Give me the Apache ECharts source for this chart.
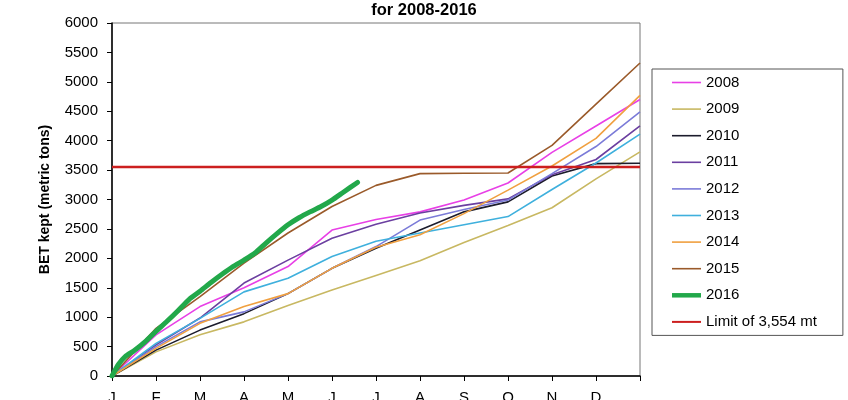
<!DOCTYPE html>
<html>
<head>
<meta charset="utf-8">
<script src="https://cdn.jsdelivr.net/npm/echarts@6/dist/echarts.min.js"></script>
<style>
  html, body { margin: 0; padding: 0; background: #fff; }
  #chart { width: 848px; height: 400px; }
</style>
</head>
<body>
<div id="chart"></div>
<script>
// month tick labels (tick 12 = end of year, no label)
var months = ['J', 'F', 'M', 'A', 'M', 'J', 'J', 'A', 'S', 'O', 'N', 'D'];
var limit = 3554;

// cumulative catch at each month tick 0..12
var y2008 = [0, 700, 1180, 1500, 1860, 2480, 2660, 2790, 2990, 3280, 3800, 4250, 4700];
var y2009 = [0, 410, 700, 920, 1200, 1460, 1710, 1960, 2270, 2560, 2860, 3350, 3810];
var y2010 = [0, 440, 780, 1060, 1400, 1830, 2170, 2480, 2790, 2960, 3400, 3610, 3615];
var y2011 = [0, 530, 985, 1580, 1970, 2340, 2580, 2770, 2900, 3010, 3420, 3680, 4250];
var y2012 = [0, 500, 920, 1090, 1400, 1830, 2200, 2650, 2830, 2990, 3440, 3900, 4490];
var y2013 = [0, 555, 980, 1430, 1660, 2030, 2290, 2430, 2570, 2710, 3170, 3620, 4110];
var y2014 = [0, 470, 895, 1180, 1400, 1830, 2190, 2400, 2760, 3160, 3570, 4040, 4770];
var y2015 = [0, 810, 1350, 1920, 2430, 2880, 3240, 3440, 3445, 3450, 3920, 4620, 5320];

// 2016 is reported more often (position in months, value)
var x2016 = [0, 0.15, 0.3, 0.5, 0.75, 1.0, 1.25, 1.5, 1.75, 2.0, 2.25, 2.5, 2.75, 3.0,
             3.25, 3.5, 3.75, 4.0, 4.25, 4.5, 4.75, 5.0, 5.25, 5.58];
var y2016 = [0, 200, 330, 430, 580, 760, 930, 1110, 1300, 1440, 1590, 1730, 1860, 1970,
             2090, 2260, 2420, 2570, 2690, 2790, 2880, 2990, 3120, 3290];

function monthly(vals) {
  return vals.map(function (v, i) { return [i, v]; });
}

// legend icon: a horizontal bar of given thickness inside a 29x14 box
function barIcon(h) {
  var t = (7 - h / 2).toFixed(2), b = (7 + h / 2).toFixed(2);
  return 'path://M0,0M29,14M0,' + t + 'L29,' + t + 'L29,' + b + 'L0,' + b + 'Z';
}

function yearLine(name, vals, color) {
  return {
    name: name,
    type: 'line',
    data: monthly(vals),
    symbol: 'none',
    lineStyle: { color: color, width: 1.6 },
    itemStyle: { color: color },
    silent: true
  };
}

var chart = echarts.init(document.getElementById('chart'));

chart.setOption({
  animation: false,
  title: {
    text: 'for 2008-2016',
    left: 'center',
    top: -3,
    textStyle: { fontFamily: 'Liberation Sans', fontSize: 16.5, fontWeight: 'bold', color: '#000' }
  },
  grid: {
    left: 112, right: 208, top: 23, bottom: 24,
    outerBoundsMode: 'none',
    containLabel: false,
    show: true, borderColor: '#777', borderWidth: 1, backgroundColor: '#fff'
  },
  legend: {
    orient: 'vertical',
    left: 652,
    top: 69,
    padding: [6, 26, 6, 20],
    itemGap: 11.6,
    itemWidth: 29,
    itemHeight: 14,
    borderColor: '#555',
    borderWidth: 1,
    textStyle: { fontFamily: 'Liberation Sans', fontSize: 15, color: '#000' },
    data: [
      { name: '2008', icon: barIcon(1.6) },
      { name: '2009', icon: barIcon(1.6) },
      { name: '2010', icon: barIcon(1.6) },
      { name: '2011', icon: barIcon(1.6) },
      { name: '2012', icon: barIcon(1.6) },
      { name: '2013', icon: barIcon(1.6) },
      { name: '2014', icon: barIcon(1.6) },
      { name: '2015', icon: barIcon(1.6) },
      { name: '2016', icon: barIcon(4.5) },
      { name: 'Limit of 3,554 mt', icon: barIcon(2) }
    ]
  },
  xAxis: {
    type: 'value',
    min: 0, max: 12, interval: 1,
    axisLine: { lineStyle: { color: '#000', width: 1.5 } },
    axisTick: { show: true, length: 5, lineStyle: { color: '#000' } },
    splitLine: { show: false },
    axisLabel: {
      margin: 14,
      fontFamily: 'Liberation Sans', fontSize: 15, color: '#000',
      formatter: function (v) { return months[v] || ''; }
    }
  },
  yAxis: {
    type: 'value',
    min: 0, max: 6000, interval: 500,
    name: 'BET kept (metric tons)',
    nameLocation: 'middle',
    nameGap: 60,
    nameTextStyle: { fontFamily: 'Liberation Sans', fontSize: 14, fontWeight: 'bold', color: '#000' },
    axisLine: { show: true, lineStyle: { color: '#000', width: 1.5 } },
    axisTick: { show: true, length: 5, lineStyle: { color: '#000' } },
    splitLine: { show: false },
    axisLabel: {
      margin: 14, fontFamily: 'Liberation Sans', fontSize: 15, color: '#000',
      formatter: function (v) { return String(v); }
    }
  },
  series: [
    yearLine('2008', y2008, '#e840e6'),
    yearLine('2009', y2009, '#c8b862'),
    yearLine('2010', y2010, '#1c1c2c'),
    yearLine('2011', y2011, '#6b3fa0'),
    yearLine('2012', y2012, '#7b7bd8'),
    yearLine('2013', y2013, '#3fb0dd'),
    yearLine('2014', y2014, '#f0a040'),
    yearLine('2015', y2015, '#9a5a2a'),
    {
      name: '2016',
      type: 'line',
      data: x2016.map(function (x, i) { return [x, y2016[i]]; }),
      symbol: 'none',
      smooth: 0.2,
      lineStyle: { color: '#22a84a', width: 5, cap: 'round' },
      itemStyle: { color: '#22a84a' },
      silent: true
    },
    {
      name: 'Limit of 3,554 mt',
      type: 'line',
      data: [[0, limit], [12, limit]],
      symbol: 'none',
      lineStyle: { color: '#cc1f1f', width: 2.5 },
      itemStyle: { color: '#cc1f1f' },
      silent: true
    }
  ]
});
</script>
</body>
</html>
